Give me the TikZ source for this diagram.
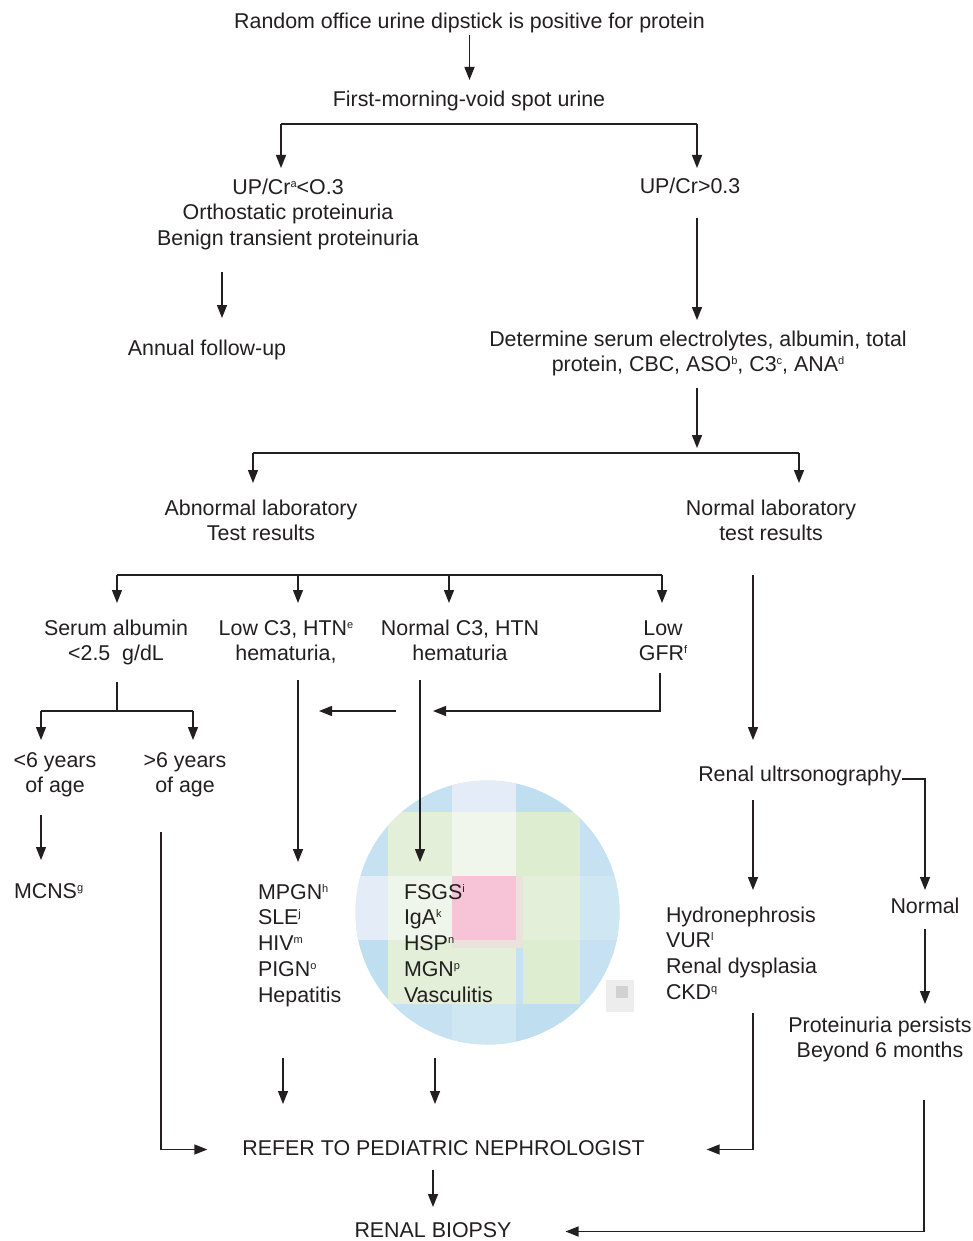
\documentclass[tikz,border=0pt]{standalone}
\usepackage{fontspec}
\setmainfont{Liberation Sans}
\usetikzlibrary{arrows.meta}
\definecolor{ink}{HTML}{231F20}
\definecolor{bA}{HTML}{C6E2F2}
\definecolor{bB}{HTML}{E3ECF7}
\definecolor{bC}{HTML}{BFDEF0}
\definecolor{bD}{HTML}{CFE6F3}
\definecolor{gA}{HTML}{E3EFD9}
\definecolor{gB}{HTML}{F0F6EC}
\definecolor{gC}{HTML}{DDEDCF}
\definecolor{gD}{HTML}{EEF5EA}
\definecolor{pk}{HTML}{F7C3D7}
\definecolor{be}{HTML}{EAE3DC}
\newcommand{\supx}[1]{\raisebox{7pt}{\fontsize{11}{11}\selectfont #1}}
\newcommand{\st}{\vrule width 0pt height 17pt depth 6pt\relax}
\begin{document}
\begin{tikzpicture}[x=1pt,y=-1pt,
  every node/.style={inner sep=0pt, outer sep=0pt, text=ink, font=\fontsize{21.4}{25.8}\selectfont},
  lbl/.style={anchor=north, align=center},
  lbll/.style={anchor=north west, align=left},
  arr/.style={draw=ink, line width=1.4pt, -{Triangle[length=13pt,width=10pt]}},
  barln/.style={draw=ink, line width=2.6pt},
  ln/.style={draw=ink, line width=1.4pt}]
\useasboundingbox (0,0) rectangle (972,1241);
\fill[white] (0,0) rectangle (972,1241);
% pixelated blob
\begin{scope}
\clip (487.5,912.5) circle[radius=132];
\fill[bA] (340,770) rectangle (640,1060);
\fill[bA] (388,748) rectangle (452,812);
\fill[bB] (452,748) rectangle (516,812);
\fill[bC] (516,748) rectangle (580,812);
\fill[bA] (324,812) rectangle (388,876);
\fill[gA] (388,812) rectangle (452,876);
\fill[gB] (452,812) rectangle (516,876);
\fill[gC] (516,812) rectangle (580,876);
\fill[bA] (580,812) rectangle (644,876);
\fill[bB] (324,876) rectangle (388,940);
\fill[gD] (388,876) rectangle (452,940);
\fill[be] (452,876) rectangle (523,948);
\fill[pk] (452,876) rectangle (516,940);
\fill[gA] (523,876) rectangle (580,940);
\fill[bD] (580,876) rectangle (644,940);
\fill[bC] (324,940) rectangle (388,1004);
\fill[gA] (388,948) rectangle (452,1004);
\fill[gA] (452,948) rectangle (516,1004);
\fill[gC] (523,948) rectangle (580,1004);
\fill[gA] (388,940) rectangle (452,948);
\fill[gC] (523,940) rectangle (580,948);
\fill[bA] (580,940) rectangle (644,1004);
\fill[bA] (388,1004) rectangle (452,1068);
\fill[bD] (452,1004) rectangle (516,1068);
\fill[bC] (516,1004) rectangle (580,1068);
\end{scope}
\fill[black!7] (606,980) rectangle (634,1012);
\fill[black!18] (616,986) rectangle (628,998);
% nodes
\node[lbl] (title) at (469.5,12) {\st Random office urine dipstick is positive for protein\st};
\node[lbl] (first) at (469,90) {\st First-morning-void spot urine\st};
\node[lbl] (up1) at (288,177) {\st UP/Cr\supx{a}<O.3\\Orthostatic proteinuria\\Benign transient proteinuria\st};
\node[lbl] (up2) at (690,177) {\st UP/Cr>0.3\st};
\node[lbl] (annual) at (207,338) {\st Annual follow-up\st};
\node[lbl] (det) at (698,329) {\st Determine serum electrolytes, albumin, total\\protein, CBC, ASO\supx{b}, C3\supx{c}, ANA\supx{d}\st};
\node[lbl] (abn) at (261,498) {\st Abnormal laboratory\\Test results\st};
\node[lbl] (nrm) at (771,498) {\st Normal laboratory\\test results\st};
\node[lbl] (serum) at (116,618) {\st Serum albumin\\<2.5\ \ g/dL\st};
\node[lbl] (lowc3) at (286,618) {\st Low C3, HTN\supx{e}\\hematuria,\st};
\node[lbl] (normc3) at (460,618) {\st Normal C3, HTN\\hematuria\st};
\node[lbl] (gfr) at (663,618) {\st Low\\GFR\supx{f}\st};
\node[lbl] (lt6) at (55,750) {\st <6 years\\of age\st};
\node[lbl] (gt6) at (185,750) {\st >6 years\\of age\st};
\node[lbll] (mcns) at (14,881) {\st MCNS\supx{g}\st};
\node[lbl] (renalus) at (800,764) {\st Renal ultrsonography\st};
\node[lbll] (mpgn) at (258,882) {\st MPGN\supx{h}\\SLE\supx{j}\\HIV\supx{m}\\PIGN\supx{o}\\Hepatitis\st};
\node[lbll] (fsgs) at (404,882) {\st FSGS\supx{i}\\IgA\supx{k}\\HSP\supx{n}\\MGN\supx{p}\\Vasculitis\st};
\node[lbll] (hydro) at (666,905) {\st Hydronephrosis\\VUR\supx{l}\\Renal dysplasia\\CKD\supx{q}\st};
\node[lbl] (normal2) at (925,896) {\st Normal\st};
\node[lbl] (persist) at (880,1015) {\st Proteinuria persists\\Beyond 6 months\st};
\node[lbl] (refer) at (443.5,1138) {\st REFER TO PEDIATRIC NEPHROLOGIST\st};
\node[lbl] (biopsy) at (433,1220) {\st RENAL BIOPSY\st};
% connectors
\draw[arr, shorten >=10pt] (title.south) -- (title.south |- first.north);
\coordinate (j1l) at (281,124);
\coordinate (j1r) at (697,124);
\draw[barln] (j1l) -- (j1r);
\draw[arr, shorten >=9pt] (j1l) -- (j1l |- up1.north);
\draw[arr, shorten >=9pt] (j1r) -- (j1r |- up2.north);
\coordinate (s3) at (222,272);
\draw[arr, shorten >=20pt] (s3) -- (s3 |- annual.north);
\coordinate (s4) at (697,218);
\draw[arr, shorten >=9pt] (s4) -- (s4 |- det.north);
\coordinate (j2l) at (253,453);
\coordinate (j2r) at (799,453);
\coordinate (j2m) at (697,453);
\draw[barln] (j2l) -- (j2r);
\draw[arr, shorten <=10pt, shorten >=5pt] (j2m |- det.south) -- (j2m);
\draw[arr, shorten >=15pt] (j2l) -- (j2l |- abn.north);
\draw[arr, shorten >=15pt] (j2r) -- (j2r |- nrm.north);
\coordinate (j3a) at (117,575);
\coordinate (j3b) at (298,575);
\coordinate (j3c) at (449,575);
\coordinate (j3d) at (662,575);
\draw[barln] (j3a) -- (j3d);
\draw[arr, shorten >=15pt] (j3a) -- (j3a |- serum.north);
\draw[arr, shorten >=15pt] (j3b) -- (j3b |- lowc3.north);
\draw[arr, shorten >=15pt] (j3c) -- (j3c |- normc3.north);
\draw[arr, shorten >=15pt] (j3d) -- (j3d |- gfr.north);
\coordinate (s7) at (753,575);
\draw[arr, shorten >=24pt] (s7) -- (s7 |- renalus.north);
\coordinate (j4m) at (117,711);
\coordinate (j4l) at (41,711);
\coordinate (j4r) at (193,711);
\draw[ln, shorten <=15pt] (j4m |- serum.south) -- (j4m);
\draw[barln] (j4l) -- (j4r);
\draw[arr, shorten >=10pt] (j4l) -- (j4l |- lt6.north);
\draw[arr, shorten >=10pt] (j4r) -- (j4r |- gt6.north);
\draw[arr, shorten <=13pt, shorten >=20pt] (j3b |- lowc3.south) -- (j3b |- mpgn.north);
\coordinate (s10) at (420,680);
\draw[arr, shorten >=20pt] (s10) -- (s10 |- fsgs.north);
\coordinate (s11) at (660,673);
\coordinate (t11) at (433,711);
\draw[arr] (s11) |- (t11);
\coordinate (s12) at (396,711);
\coordinate (t12) at (319,711);
\draw[arr] (s12) -- (t12);
\draw[arr, shorten <=16pt, shorten >=21pt] (j4l |- lt6.south) -- (j4l |- mcns.north);
\coordinate (s14) at (161,832);
\draw[arr, shorten >=35pt] (s14) |- (refer.west);
\coordinate (s15) at (753,800);
\draw[arr, shorten >=15pt] (s15) -- (s15 |- hydro.north);
\coordinate (s16) at (902,779);
\draw[arr, shorten >=6pt] (s16) -| (normal2.north);
\draw[arr, shorten <=10pt, shorten >=11pt] (normal2.south) -- (normal2.south |- persist.north);
\coordinate (s18) at (753,1013);
\draw[arr, shorten >=62pt] (s18) |- (refer.east);
\coordinate (s19) at (283,1058);
\draw[arr, shorten >=34pt] (s19) -- (s19 |- refer.north);
\coordinate (s20) at (435,1058);
\draw[arr, shorten >=34pt] (s20) -- (s20 |- refer.north);
\draw[arr, shorten <=9pt, shorten >=13pt] (biopsy.north |- refer.south) -- (biopsy.north);
\coordinate (s22) at (924,1100);
\draw[arr, shorten >=54pt] (s22) |- (biopsy.east);
\end{tikzpicture}
\end{document}
